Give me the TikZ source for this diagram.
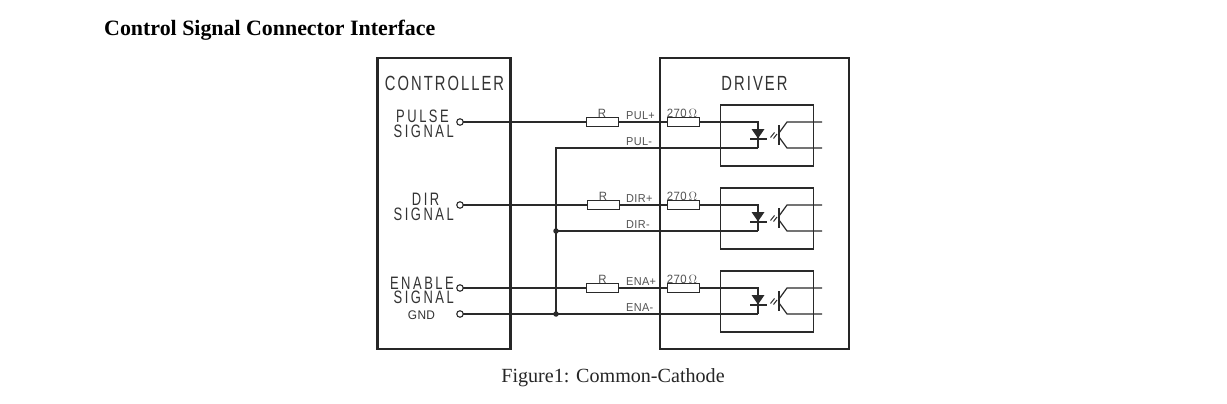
\documentclass[tikz,border=0pt]{standalone}
\usepackage{fontspec}
\setmainfont{Liberation Serif}
\newfontfamily\biglab[FakeStretch=0.72,LetterSpace=10]{Liberation Sans}
\newfontfamily\sigfont[FakeStretch=0.72,LetterSpace=14]{Liberation Sans}
\newfontfamily\smalllab[FakeStretch=0.95,LetterSpace=3]{Liberation Sans}
\definecolor{ink}{HTML}{2A2A2A}
\definecolor{txt}{HTML}{333333}
\tikzset{
  x=1pt,y=-1pt,
  wire/.style={draw=ink,line width=1.05pt},
  thin wire/.style={draw=ink,line width=1.2pt},
  frame/.style={draw=black!85,line width=2.7pt,fill=none},
  res/.style={draw=ink,line width=1pt,fill=white,minimum width=32pt,minimum height=9pt,inner sep=0pt,outer sep=0pt},
  term/.style={circle,draw=ink,line width=1.1pt,fill=white,minimum size=6.5pt,inner sep=0pt,outer sep=0pt},
  dot/.style={circle,fill=ink,minimum size=5.5pt,inner sep=0pt},
  optobox/.style={draw=ink,line width=1.1pt},
  big/.style={text=txt,inner sep=0pt,font=\biglab\fontsize{20.5}{20.5}\selectfont},
  sig/.style={text=txt,inner sep=0pt,font=\sigfont\fontsize{18}{18}\selectfont,anchor=east},
  pin/.style={text=txt!85,inner sep=0pt,font=\smalllab\fontsize{11.5}{11.5}\selectfont,anchor=west},
  rlab/.style={text=txt!85,inner sep=0pt,font=\smalllab\fontsize{12}{12}\selectfont},
}
\begin{document}
\begin{tikzpicture}
\useasboundingbox (0,0) rectangle (1227,404);
\fill[white] (0,0) rectangle (1227,404);
\node[anchor=base west,inner sep=0pt,font=\bfseries\fontsize{21.9}{21.9}\selectfont] (title) at (104,36) {Control Signal Connector Interface};
\node[anchor=base,inner sep=0pt,font=\fontsize{20.1}{20.1}\selectfont,text=black!85] (cap) at (613,382) {Figure1: Common-Cathode};

% wires
\foreach \n/\y/\yy/\rx/\lab in {1/122/148/602/PUL,2/205/231/603/DIR,3/288/314/602.5/ENA}{
  \node[term] (t\n) at (460,\y) {};
  \node[res] (r\n) at (\rx,\y) {};
  \node[res] (k\n) at (683,\y) {};
  \coordinate (a\n) at (758,\y);
  \coordinate (c\n) at (758,\yy);
  \draw[wire] (t\n) -- (r\n);
  \draw[wire] (r\n) -- (k\n);
  \draw[wire] (k\n) -- (a\n) -- (c\n);
  \node[optobox,draw,minimum width=93pt,minimum height=61pt,inner sep=0pt] (o\n) at (767,\y+13.5) {};
  \fill[ink] (751.5,\y+7) -- (764.5,\y+7) -- (758,\y+16.5) -- cycle;
  \draw[ink,line width=2.2pt] (750,\y+17) -- (767,\y+17);
  \draw[ink,line width=1pt] (770.5,\y+15.5) -- (774.5,\y+10.5);
  \draw[ink,line width=1pt] (773.5,\y+16.5) -- (777,\y+12);
  \draw[ink,line width=1.5pt] (779,\y+3) -- (779,\y+23);
  \coordinate (ce\n) at (822,\y);
  \coordinate (em\n) at (822,\yy);
  \draw[thin wire] (779,\y+11) -- (787,\y) -- (ce\n);
  \draw[thin wire] (779,\y+15) -- (787,\yy) -- (em\n);
  \node[rlab] (rl\n) at (\rx,\y-8.5) {R};
  \node[rlab] (kl\n) at (682,\y-8.5) {270\,$\Omega$};
  \node[pin] (p\n) at (626,\y-6) {\lab+};
  \node[pin] (m\n) at (626,\yy-6.5) {\lab-};
}
% common return
\coordinate (j0) at (556,148);
\coordinate (j2c) at (556,231);
\coordinate (j3c) at (556,314);
\node[term] (tg) at (460,314) {};
\draw[wire] (c1) -- (j0) -- (j3c);
\draw[wire] (j2c) -- (c2);
\draw[wire] (tg) -- (j3c) -- (c3);
\node[dot] (j2) at (j2c) {};
\node[dot] (j3) at (j3c) {};

% frames
\node[frame,draw,minimum width=133pt,minimum height=291pt,inner sep=0pt] (ctrl) at (444,203.5) {};
\node[frame,draw,minimum width=189pt,minimum height=291pt,inner sep=0pt] (drv) at (754.5,203.5) {};

% labels
\node[big] (lc) at (444.5,83) {CONTROLLER};
\node[big] (ld) at (754.5,83) {DRIVER};
\node[sig] (s1a) at (449,116.5) {PULSE};
\node[sig] (s1b) at (454,131) {SIGNAL};
\node[sig] (s2a) at (439.5,199.5) {DIR};
\node[sig] (s2b) at (454,214) {SIGNAL};
\node[sig] (s3a) at (454,283.5) {ENABLE};
\node[sig] (s3b) at (454,297) {SIGNAL};
\node[text=txt,inner sep=0pt,font=\smalllab\fontsize{12.5}{12.5}\selectfont] (g) at (421.5,315) {GND};
\end{tikzpicture}
\end{document}
